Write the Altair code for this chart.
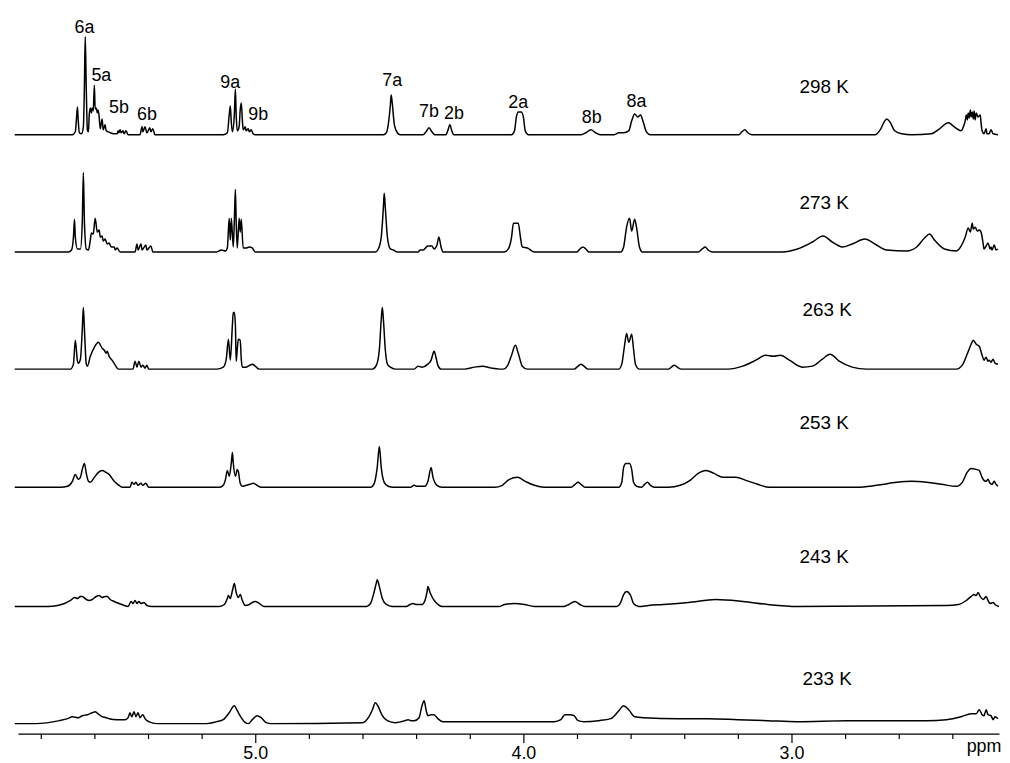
import altair as alt
import pandas as pd

# ---- spectra: (chemical shift in ppm, intensity above that trace's baseline) ----
spec_298 = [
    (5.897, 0), (5.682, 0), (5.671, 3), (5.667, 15), (5.663, 28), (5.660, 14), (5.656, 2),
    (5.648, 1), (5.641, 8), (5.637, 50), (5.634, 99), (5.630, 45), (5.626, 5), (5.622, 3),
    (5.619, 20), (5.615, 27), (5.611, 22), (5.608, 27), (5.604, 24), (5.600, 50), (5.597, 26),
    (5.593, 27), (5.589, 22), (5.586, 25), (5.582, 18), (5.578, 6), (5.571, 16), (5.567, 5),
    (5.560, 10), (5.556, 4), (5.548, 3), (5.541, 2), (5.526, 1), (5.515, 1), (5.511, 4),
    (5.508, 2), (5.504, 5), (5.500, 2), (5.493, 4), (5.489, 1), (5.482, 4), (5.474, 0),
    (5.430, 0), (5.422, 8), (5.419, 3), (5.411, 8), (5.404, 2), (5.393, 7), (5.389, 3),
    (5.382, 6), (5.374, 0), (5.119, 0), (5.104, 2), (5.097, 20), (5.093, 29), (5.089, 12),
    (5.085, 3), (5.078, 20), (5.074, 46), (5.071, 20), (5.067, 4), (5.060, 8), (5.056, 25),
    (5.052, 32), (5.048, 15), (5.045, 5), (5.037, 8), (5.034, 4), (5.026, 6), (5.022, 3),
    (5.015, 5), (5.008, 1), (5.000, 0), (4.522, 0), (4.511, 2), (4.504, 10), (4.496, 30),
    (4.493, 40), (4.489, 32), (4.481, 10), (4.470, 2), (4.459, 0), (4.374, 0), (4.363, 3),
    (4.352, 7), (4.341, 3), (4.330, 0), (4.289, 0), (4.282, 4), (4.274, 10), (4.267, 4),
    (4.259, 0), (4.044, 0), (4.033, 4), (4.026, 18), (4.019, 23), (4.008, 23), (4.000, 18),
    (3.993, 4), (3.981, 0), (3.785, 0), (3.767, 2), (3.748, 5), (3.730, 2), (3.711, 0),
    (3.663, 0), (3.644, 2), (3.626, 2), (3.607, 4), (3.596, 14), (3.585, 21), (3.574, 18),
    (3.563, 20), (3.552, 12), (3.541, 3), (3.526, 0), (3.196, 0), (3.185, 3), (3.174, 5),
    (3.163, 2), (3.148, 0), (2.689, 0), (2.667, 6), (2.652, 14), (2.645, 16), (2.633, 13),
    (2.615, 4), (2.589, 1), (2.552, 0), (2.478, 1), (2.448, 6), (2.415, 12), (2.393, 8),
    (2.367, 4), (2.359, 8), (2.352, 14), (2.348, 20), (2.344, 15), (2.341, 22), (2.337, 17),
    (2.333, 25), (2.330, 18), (2.326, 23), (2.322, 16), (2.319, 24), (2.315, 15), (2.311, 22),
    (2.304, 18), (2.296, 20), (2.293, 12), (2.289, 4), (2.282, 1), (2.274, 6), (2.271, 1),
    (2.263, 1), (2.256, 5), (2.248, 1), (2.230, 0),
]

spec_273 = [
    (5.897, 0), (5.697, 0), (5.685, 2), (5.678, 15), (5.674, 33), (5.671, 15), (5.663, 3),
    (5.652, 3), (5.645, 30), (5.641, 80), (5.637, 30), (5.630, 3), (5.622, 2), (5.615, 12),
    (5.611, 19), (5.604, 18), (5.597, 34), (5.589, 20), (5.582, 22), (5.578, 15), (5.571, 16),
    (5.567, 11), (5.560, 13), (5.552, 8), (5.545, 9), (5.537, 5), (5.526, 5), (5.522, 2),
    (5.515, 4), (5.504, 0), (5.448, 0), (5.441, 8), (5.437, 2), (5.426, 8), (5.422, 2),
    (5.408, 7), (5.404, 2), (5.389, 6), (5.382, 0), (5.144, 0), (5.126, 2), (5.111, 1),
    (5.104, 4), (5.097, 34), (5.093, 12), (5.089, 34), (5.082, 5), (5.078, 30), (5.074, 63),
    (5.071, 30), (5.067, 4), (5.060, 34), (5.056, 20), (5.052, 33), (5.045, 4), (5.034, 4),
    (5.022, 5), (5.011, 4), (5.000, 0), (4.552, 0), (4.541, 3), (4.530, 15), (4.522, 45),
    (4.519, 59), (4.515, 45), (4.507, 15), (4.496, 3), (4.485, 2), (4.470, 0), (4.393, 0),
    (4.385, 2), (4.374, 2), (4.356, 6), (4.341, 6), (4.333, 3), (4.322, 7), (4.315, 15),
    (4.307, 5), (4.300, 0), (4.070, 0), (4.056, 3), (4.044, 15), (4.037, 29), (4.019, 29),
    (4.011, 15), (4.004, 5), (3.985, 4), (3.959, 0), (3.800, 0), (3.789, 3), (3.778, 5),
    (3.767, 3), (3.756, 0), (3.637, 0), (3.626, 5), (3.615, 25), (3.604, 34), (3.596, 21),
    (3.585, 33), (3.578, 25), (3.567, 5), (3.556, 0), (3.348, 0), (3.333, 3), (3.322, 5),
    (3.311, 2), (3.297, 0), (3.034, 0), (2.978, 3), (2.922, 10), (2.882, 16), (2.848, 10),
    (2.811, 5), (2.774, 8), (2.726, 13), (2.689, 8), (2.645, 2), (2.570, 1), (2.533, 5),
    (2.504, 14), (2.485, 18), (2.467, 12), (2.430, 3), (2.385, 1), (2.367, 6), (2.352, 15),
    (2.341, 24), (2.333, 20), (2.326, 29), (2.322, 23), (2.315, 25), (2.307, 21), (2.300, 22),
    (2.293, 20), (2.285, 8), (2.282, 3), (2.274, 6), (2.267, 9), (2.259, 3), (2.256, 5),
    (2.252, 2), (2.244, 7), (2.237, 2), (2.230, 3),
]

spec_263 = [
    (5.897, 0), (5.689, 0), (5.678, 5), (5.671, 29), (5.663, 8), (5.660, 6), (5.652, 10),
    (5.645, 40), (5.641, 62), (5.637, 40), (5.630, 5), (5.626, 3), (5.615, 13), (5.600, 22),
    (5.585, 27), (5.571, 21), (5.563, 19), (5.556, 16), (5.552, 18), (5.545, 13), (5.534, 9),
    (5.522, 4), (5.511, 0), (5.456, 0), (5.448, 8), (5.441, 2), (5.434, 8), (5.426, 2),
    (5.419, 4), (5.411, 1), (5.404, 4), (5.397, 0), (5.144, 0), (5.119, 2), (5.108, 10),
    (5.100, 30), (5.093, 9), (5.085, 45), (5.082, 57), (5.078, 57), (5.074, 45), (5.071, 8),
    (5.067, 20), (5.063, 30), (5.056, 29), (5.052, 10), (5.048, 2), (5.034, 2), (5.019, 4),
    (5.011, 5), (5.000, 3), (4.985, 0), (4.563, 0), (4.548, 4), (4.537, 20), (4.530, 50),
    (4.526, 62), (4.522, 50), (4.515, 20), (4.507, 5), (4.496, 2), (4.478, 0), (4.407, 0),
    (4.393, 3), (4.378, 2), (4.356, 5), (4.344, 9), (4.333, 18), (4.326, 12), (4.319, 4),
    (4.307, 0), (4.219, 0), (4.182, 2), (4.152, 3), (4.119, 1), (4.089, 0), (4.074, 0),
    (4.060, 3), (4.044, 14), (4.030, 24), (4.019, 16), (4.004, 3), (3.985, 0), (3.811, 0),
    (3.796, 3), (3.785, 5), (3.774, 3), (3.759, 0), (3.644, 0), (3.633, 5), (3.622, 25),
    (3.615, 36), (3.607, 27), (3.596, 35), (3.589, 20), (3.582, 5), (3.567, 0), (3.459, 0),
    (3.448, 2), (3.437, 4), (3.426, 2), (3.411, 0), (3.237, 0), (3.182, 3), (3.133, 9),
    (3.096, 14), (3.067, 13), (3.041, 14), (3.008, 9), (2.960, 2), (2.922, 3), (2.885, 10),
    (2.856, 15), (2.822, 8), (2.774, 2), (2.719, 0), (2.385, 0), (2.363, 4), (2.345, 15),
    (2.330, 25), (2.322, 29), (2.311, 25), (2.300, 23), (2.289, 14), (2.282, 9), (2.274, 12),
    (2.267, 8), (2.263, 9), (2.256, 7), (2.248, 10), (2.241, 6), (2.230, 5),
]

spec_253 = [
    (5.897, 0), (5.726, 0), (5.700, 1), (5.682, 6), (5.671, 13), (5.660, 8), (5.652, 10),
    (5.645, 18), (5.637, 24), (5.630, 14), (5.622, 6), (5.615, 5), (5.600, 10), (5.585, 15),
    (5.571, 17), (5.556, 15), (5.545, 13), (5.534, 9), (5.522, 5), (5.508, 2), (5.497, 0),
    (5.467, 0), (5.460, 5), (5.452, 3), (5.445, 5), (5.437, 2), (5.426, 4), (5.419, 2),
    (5.408, 4), (5.397, 0), (5.133, 0), (5.119, 2), (5.111, 8), (5.104, 17), (5.097, 11),
    (5.089, 25), (5.085, 35), (5.082, 25), (5.074, 11), (5.067, 18), (5.063, 16), (5.056, 4),
    (5.048, 1), (5.034, 2), (5.019, 3), (5.008, 4), (4.993, 2), (4.978, 0), (4.570, 0),
    (4.556, 4), (4.545, 20), (4.537, 41), (4.530, 20), (4.519, 5), (4.504, 1), (4.485, 0),
    (4.422, 0), (4.407, 2), (4.396, 1), (4.367, 1), (4.356, 6), (4.344, 20), (4.337, 10),
    (4.322, 2), (4.304, 0), (4.108, 0), (4.078, 2), (4.070, 4), (4.052, 8), (4.022, 10),
    (3.993, 6), (3.959, 2), (3.922, 0), (3.822, 0), (3.807, 3), (3.796, 5), (3.785, 3),
    (3.770, 0), (3.644, 0), (3.633, 5), (3.626, 20), (3.618, 24), (3.604, 24), (3.596, 18),
    (3.589, 5), (3.578, 1), (3.559, 0), (3.548, 3), (3.537, 5), (3.526, 2), (3.511, 0),
    (3.459, 0), (3.415, 2), (3.378, 7), (3.348, 14), (3.319, 17), (3.289, 14), (3.256, 10),
    (3.207, 10), (3.170, 7), (3.126, 3), (3.082, 0), (2.756, 0), (2.682, 2), (2.607, 5),
    (2.552, 6), (2.496, 5), (2.441, 3), (2.385, 1), (2.363, 5), (2.345, 15), (2.330, 19),
    (2.311, 18), (2.300, 17), (2.289, 10), (2.282, 7), (2.274, 6), (2.267, 8), (2.259, 4),
    (2.252, 3), (2.244, 6), (2.237, 3), (2.230, 1),
]

spec_243 = [
    (5.897, 0), (5.774, 0), (5.737, 1), (5.711, 3), (5.689, 6), (5.674, 9), (5.663, 8),
    (5.652, 10), (5.645, 10), (5.630, 7), (5.619, 6), (5.608, 7), (5.593, 10), (5.582, 11),
    (5.571, 9), (5.560, 10), (5.552, 10), (5.541, 7), (5.526, 5), (5.508, 3), (5.489, 1),
    (5.474, 0), (5.463, 5), (5.456, 3), (5.448, 6), (5.441, 3), (5.434, 5), (5.426, 3),
    (5.415, 4), (5.404, 1), (5.385, 0), (5.133, 0), (5.115, 2), (5.104, 8), (5.100, 11),
    (5.093, 8), (5.085, 16), (5.078, 23), (5.071, 14), (5.063, 9), (5.056, 12), (5.048, 6),
    (5.037, 1), (5.022, 2), (5.011, 4), (5.000, 5), (4.985, 3), (4.967, 0), (4.585, 0),
    (4.570, 3), (4.559, 12), (4.548, 24), (4.545, 27), (4.537, 20), (4.526, 8), (4.511, 2),
    (4.489, 0), (4.437, 0), (4.422, 2), (4.411, 3), (4.400, 2), (4.378, 2), (4.367, 6),
    (4.359, 15), (4.356, 20), (4.348, 14), (4.337, 8), (4.322, 3), (4.304, 0), (4.089, 0),
    (4.070, 2), (4.034, 3), (3.996, 2), (3.959, 0), (3.848, 0), (3.830, 2), (3.808, 5),
    (3.789, 2), (3.770, 0), (3.652, 0), (3.637, 4), (3.626, 12), (3.615, 15), (3.600, 11),
    (3.589, 3), (3.570, 0), (3.533, 1), (3.478, 2), (3.385, 4), (3.282, 7), (3.181, 5),
    (3.089, 2), (2.978, 0), (2.422, 1), (2.378, 2), (2.348, 6), (2.326, 11), (2.319, 12),
    (2.311, 11), (2.304, 14), (2.296, 10), (2.285, 7), (2.274, 10), (2.267, 6), (2.259, 3),
    (2.248, 4), (2.241, 2), (2.226, 0),
]

spec_233 = [
    (5.897, 0), (5.819, 0), (5.730, 3), (5.700, 5), (5.682, 7), (5.660, 6), (5.645, 8),
    (5.626, 9), (5.608, 11), (5.597, 12), (5.582, 9), (5.571, 7), (5.556, 6), (5.545, 5),
    (5.515, 4), (5.485, 4), (5.474, 6), (5.467, 11), (5.460, 7), (5.452, 12), (5.445, 7),
    (5.437, 11), (5.430, 6), (5.419, 9), (5.411, 5), (5.397, 2), (5.367, 0), (5.181, 0),
    (5.144, 2), (5.119, 4), (5.097, 11), (5.078, 18), (5.067, 13), (5.052, 6), (5.037, 1),
    (5.026, 0), (5.011, 4), (4.993, 8), (4.978, 6), (4.959, 1), (4.941, 0), (4.600, 1),
    (4.578, 6), (4.563, 14), (4.552, 21), (4.541, 17), (4.526, 8), (4.507, 3), (4.478, 1),
    (4.441, 3), (4.430, 4), (4.419, 3), (4.407, 3), (4.389, 6), (4.378, 18), (4.370, 23),
    (4.363, 14), (4.356, 8), (4.344, 9), (4.333, 9), (4.319, 5), (4.300, 2), (4.070, 2),
    (3.885, 2), (3.860, 4), (3.845, 9), (3.826, 9), (3.811, 8), (3.796, 3), (3.774, 2),
    (3.719, 3), (3.674, 5), (3.644, 13), (3.626, 18), (3.607, 14), (3.585, 7), (3.552, 6),
    (3.422, 5), (3.311, 5), (3.200, 4), (3.089, 3), (2.978, 2), (2.793, 3), (2.607, 3),
    (2.496, 3), (2.422, 4), (2.367, 7), (2.330, 10), (2.311, 10), (2.300, 14), (2.289, 9),
    (2.282, 8), (2.274, 14), (2.267, 9), (2.256, 8), (2.248, 4), (2.241, 7), (2.230, 5),
]

temperatures = ["298 K", "273 K", "263 K", "253 K", "243 K", "233 K"]
spectra = [spec_298, spec_273, spec_263, spec_253, spec_243, spec_233]
stack_offsets = [603, 485, 367, 248, 128, 10]

# peak assignment labels (298 K trace)
peak_labels = ["6a", "5a", "5b", "6b", "9a", "9b", "7a", "7b", "2b", "2a", "8b", "8a"]
peak_label_ppm = [5.637, 5.574, 5.508, 5.404, 5.093, 4.989, 4.489, 4.352, 4.259, 4.019, 3.745, 3.578]
peak_label_y = [705, 657, 625, 618, 650, 618, 652, 621, 619, 630, 615, 631]

temp_label_ppm = [2.878, 2.878, 2.867, 2.878, 2.878, 2.867]
temp_label_y = [645, 528, 421, 307, 172, 49]

tick_values = [5.8, 5.7, 5.6, 5.5, 5.4, 5.3, 5.2, 5.1, 5.0, 4.9, 4.8, 4.7, 4.6, 4.5,
               4.4, 4.3, 4.2, 4.1, 4.0, 3.9, 3.8, 3.7, 3.6, 3.5, 3.4, 3.3, 3.2, 3.1,
               3.0, 2.9, 2.8, 2.7, 2.6, 2.5, 2.4, 2.3]

# ---- tables ----
rows = []
for t, spec, off in zip(temperatures, spectra, stack_offsets):
    for i, (p, v) in enumerate(spec):
        rows.append({"T": t, "ppm": p, "y": off + v, "order": i})
df = pd.DataFrame(rows)

df_peaks = pd.DataFrame({"text": peak_labels, "ppm": peak_label_ppm, "y": peak_label_y})
df_temps = pd.DataFrame({"text": temperatures, "ppm": temp_label_ppm, "y": temp_label_y})
df_unit = pd.DataFrame({"text": ["ppm"], "ppm": [2.282], "y": [-19]})

FONT = "Liberation Sans"

xscale = alt.Scale(domain=[5.885, 2.226], nice=False, zero=False)
yscale = alt.Scale(domain=[0, 728], nice=False, zero=False)

xaxis = alt.Axis(
    values=tick_values,
    labelExpr="abs(datum.value - round(datum.value)) < 0.01 ? format(datum.value, '.1f') : ''",
    tickSize={"condition": {"test": "abs(datum.value * 2 - round(datum.value * 2)) < 0.01", "value": 9}, "value": 5},
    title=None, grid=False,
    domainColor="black", domainWidth=1.2, tickColor="black", tickWidth=1.2,
    labelFont=FONT, labelFontSize=18, labelColor="black", labelPadding=2,
    labelOverlap=False, labelFlush=False,
)

lines = alt.Chart(df).mark_line(color="black", strokeWidth=1.5, interpolate="monotone").encode(
    x=alt.X("ppm:Q", scale=xscale, axis=xaxis),
    y=alt.Y("y:Q", scale=yscale, axis=None),
    detail="T:N",
    order="order:Q",
)

peaks = alt.Chart(df_peaks).mark_text(font=FONT, fontSize=18, color="black",
                                       align="center", baseline="alphabetic").encode(
    x=alt.X("ppm:Q", scale=xscale), y=alt.Y("y:Q", scale=yscale), text="text:N")

temps = alt.Chart(df_temps).mark_text(font=FONT, fontSize=19, color="black",
                                       align="center", baseline="alphabetic").encode(
    x=alt.X("ppm:Q", scale=xscale), y=alt.Y("y:Q", scale=yscale), text="text:N")

unit = alt.Chart(df_unit).mark_text(font=FONT, fontSize=18, color="black",
                                     align="center", baseline="alphabetic").encode(
    x=alt.X("ppm:Q", scale=xscale), y=alt.Y("y:Q", scale=yscale), text="text:N")

chart = alt.layer(lines, peaks, temps, unit).properties(
    width=988, height=728,
    padding={"left": 3, "top": 0, "right": 0, "bottom": 0},
    background="white",
).configure_view(stroke=None)

chart.save("out.html", embed_options={"renderer": "svg", "actions": False})
